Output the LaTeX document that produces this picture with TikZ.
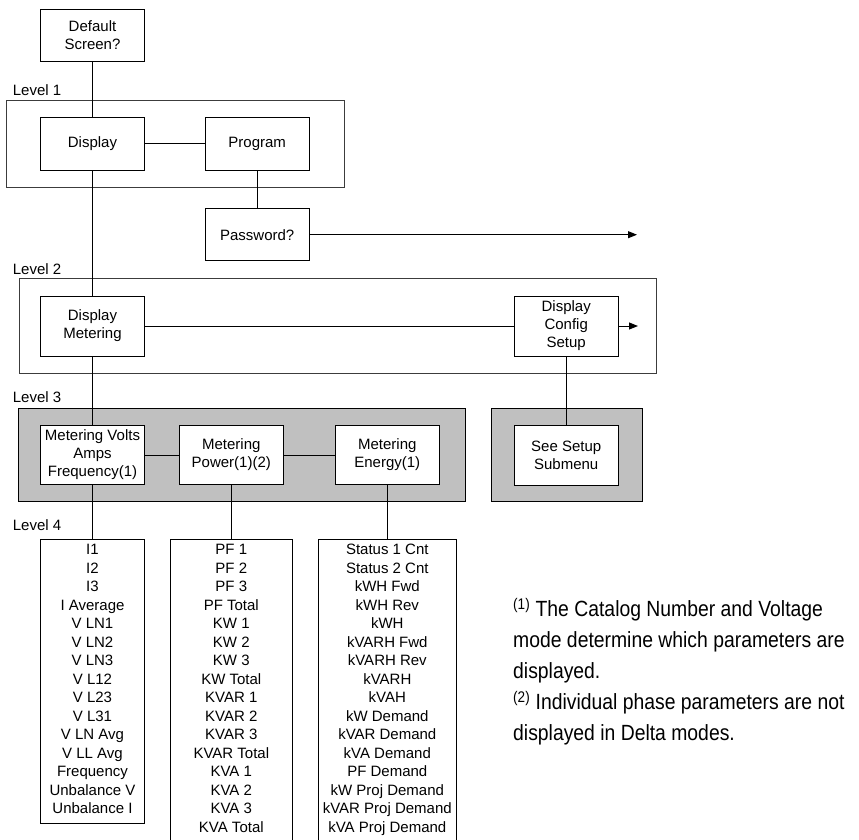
\documentclass[tikz,border=0pt]{standalone}
\usepackage{fontspec}
\setmainfont{Liberation Sans}
\newfontfamily\notefont[FakeStretch=0.88]{Liberation Sans}
\usepackage{tikz}
\usetikzlibrary{arrows.meta,positioning}
\definecolor{panelgray}{RGB}{192,192,192}
\definecolor{framegray}{RGB}{60,60,60}

\begin{document}
\begin{tikzpicture}[
  x=1pt, y=-1pt,
  every node/.style={font=\fontsize{15pt}{18pt}\selectfont},
  menu/.style={draw=black, line width=1pt, fill=white, minimum width=104pt,
               inner sep=2pt, align=center},
  itemlist/.style={draw=black, line width=1pt, fill=white, anchor=north,
               inner xsep=2pt, inner ysep=4.7pt, align=center,
               font=\fontsize{15pt}{18.5pt}\selectfont},
  frame/.style={draw=framegray, line width=1pt},
  panel/.style={draw=black, line width=1.1pt, fill=panelgray},
  lvlabel/.style={anchor=west, inner sep=0pt},
  note/.style={anchor=north west, inner sep=0pt, align=left,
               font=\notefont\fontsize{22pt}{31pt}\selectfont},
  link/.style={line width=1pt},
  arrow/.style={-{Triangle[length=9pt,width=7pt]}, line width=1pt},
]
\useasboundingbox (0,0) rectangle (859,839);

%% ── Level frames ─────────────────────────────────────────────────────────
\draw[frame] (6,100) rectangle (344,187);
\draw[frame] (19.3,278.3) rectangle (656,373.3);
\draw[panel] (18.3,408.3) rectangle (465.7,501.7);
\draw[panel] (491.7,408.3) rectangle (642.3,501.7);

\node[lvlabel] (lvl1) at (12.7,90)    {Level 1};
\node[lvlabel] (lvl2) at (12.7,269)   {Level 2};
\node[lvlabel] (lvl3) at (12.7,396.7) {Level 3};
\node[lvlabel] (lvl4) at (12.7,525)   {Level 4};

%% ── Top and level 1 ──────────────────────────────────────────────────────
\node[menu, minimum height=52pt] (dflt) at (92.5,35.2)  {Default\\Screen?};
\node[menu, minimum height=53pt] (disp) at (92.5,143.7) {Display};
\node[menu, minimum height=53pt] (prog) at (257.2,143.7) {Program};
\node[menu, minimum height=52pt] (pass) at (257.2,234.7) {Password?};
\coordinate (passout) at (637,234.7);

%% ── Level 2 ──────────────────────────────────────────────────────────────
\node[menu, minimum height=60pt] (dmeter) at (92.5,326)  {Display\\Metering};
\node[menu, minimum height=60pt] (dconf)  at (566.2,326) {Display\\Config\\Setup};
\coordinate (confout) at (638,326);

%% ── Level 3 ──────────────────────────────────────────────────────────────
\node[menu, minimum height=59pt] (mvolts)  at (92.5,455)  {Metering Volts\\Amps\\Frequency(1)};
\node[menu, minimum height=59pt] (mpower)  at (231.3,455) {Metering\\Power(1)(2)};
\node[menu, minimum height=59pt] (menergy) at (387.3,455) {Metering\\Energy(1)};
\node[menu, minimum height=60pt] (setup)   at (566.2,455.7) {See Setup\\Submenu};

%% ── Level 4 ──────────────────────────────────────────────────────────────
\node[itemlist, minimum width=104pt, text depth=5pt] (vlist) at (92.5,539)
  {I1\\I2\\I3\\I Average\\V LN1\\V LN2\\V LN3\\V L12\\V L23\\V L31\\
   V LN Avg\\V LL Avg\\Frequency\\Unbalance V\\Unbalance I};
\node[itemlist, minimum width=121.6pt, text depth=20pt] (plist) at (231.3,539)
  {PF 1\\PF 2\\PF 3\\PF Total\\KW 1\\KW 2\\KW 3\\KW Total\\KVAR 1\\KVAR 2\\
   KVAR 3\\KVAR Total\\KVA 1\\KVA 2\\KVA 3\\KVA Total};
\node[itemlist, minimum width=138.4pt, text depth=20pt] (elist) at (387.3,539)
  {Status 1 Cnt\\Status 2 Cnt\\kWH Fwd\\kWH Rev\\kWH\\kVARH Fwd\\kVARH Rev\\
   kVARH\\kVAH\\kW Demand\\kVAR Demand\\kVA Demand\\PF Demand\\
   kW Proj Demand\\kVAR Proj Demand\\kVA Proj Demand};

%% ── Connectors ───────────────────────────────────────────────────────────
\draw[link] (dflt.south) -- (disp.north);
\draw[link] (disp.east) -- (prog.west);
\draw[link] (prog.south) -- (pass.north);
\draw[arrow] (pass.east) -- (passout);
\draw[link] (disp.south) -- (dmeter.north);
\draw[link] (dmeter.east) -- (dconf.west);
\draw[arrow] (dconf.east) -- (confout);
\draw[link] (dconf.south) -- (setup.north);
\draw[link] (dmeter.south) -- (mvolts.north);
\draw[link] (mvolts.east) -- (mpower.west);
\draw[link] (mpower.east) -- (menergy.west);
\draw[link] (mvolts.south) -- (vlist.north);
\draw[link] (mpower.south) -- (plist.north);
\draw[link] (menergy.south) -- (elist.north);

%% ── Notes ────────────────────────────────────────────────────────────────
\node[note] (notes) at (513,598)
  {\textsuperscript{(1)} The Catalog Number and Voltage\\
   mode determine which parameters are\\
   displayed.\\
   \textsuperscript{(2)} Individual phase parameters are not\\
   displayed in Delta modes.};

\end{tikzpicture}
\end{document}
